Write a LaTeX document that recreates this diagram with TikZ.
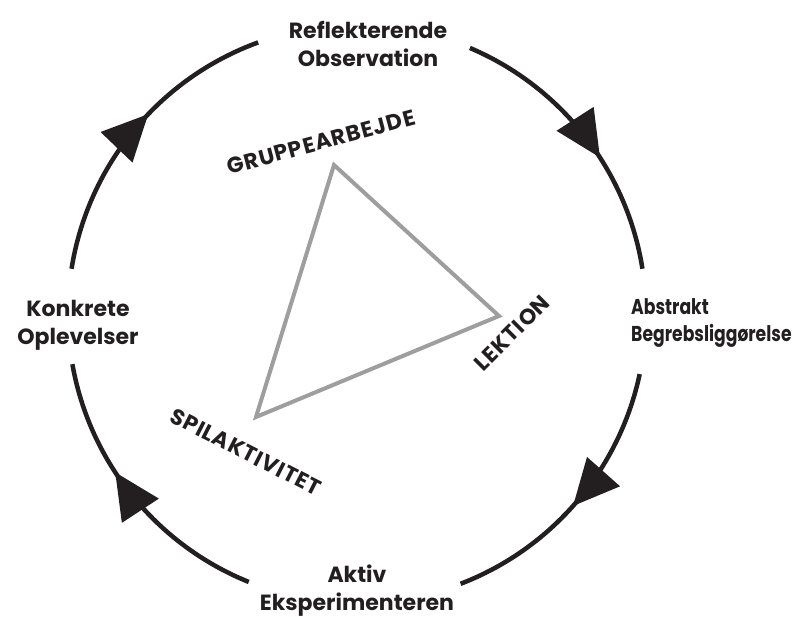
\documentclass[tikz,border=0pt]{standalone}
\usepackage{fontspec}
\setmainfont{Poppins}
\newfontfamily\narrowfont{Poppins}[FakeStretch=0.8]
\usetikzlibrary{arrows.meta,decorations.markings}
\definecolor{ink}{RGB}{35,31,32}
\definecolor{trigray}{RGB}{158,158,158}
\begin{document}
\begin{tikzpicture}[x=1pt,y=1pt,
  cyc/.style={line width=4.5pt, draw=ink},
  arrowat/.style={postaction={decorate}, decoration={markings,
     mark=at position #1 with {\arrow[ink]{Triangle[length=46pt,width=43pt]}}}},
  lbl/.style={font=\fontsize{22}{28}\selectfont\bfseries, inner sep=0pt, align=center, text=ink},
  modelbl/.style={font=\fontsize{22}{26}\selectfont\bfseries\addfontfeatures{LetterSpace=4}, inner sep=0pt, text=ink},
  tri/.style={draw=trigray, line width=4pt, line join=miter}]
\useasboundingbox (0,0) rectangle (797,617);
\coordinate (c) at (357,303);
% cycle arcs
\draw[cyc, arrowat=0.57] ([shift={(171:289)}]c) arc[start angle=171, end angle=110, radius=289];
\draw[cyc, arrowat=0.59] ([shift={(67:289)}]c) arc[start angle=67, end angle=9, radius=289];
\draw[cyc, arrowat=0.52] ([shift={(-12:289)}]c) arc[start angle=-12, end angle=-69, radius=289];
\draw[cyc, arrowat=0.60] ([shift={(-112:289)}]c) arc[start angle=-112, end angle=-170, radius=289];
% labels
\node[lbl, anchor=north] (refl) at (368,596) {Reflekterende\\Observation};
\node[lbl, anchor=north] (konk) at (78,317) {Konkrete\\Oplevelser};
\node[lbl, anchor=north west, align=left, font=\fontsize{21.5}{27}\selectfont\narrowfont\bfseries] (abst) at (631,319) {Abstrakt\\Begrebsliggørelse};
\node[lbl, anchor=north] (akt) at (357,52) {Aktiv\\Eksperimenteren};
% triangle
\coordinate (ta) at (334,452);
\coordinate (tb) at (499,301);
\coordinate (tc) at (256,200);
\draw[tri] (ta) -- (tb) -- (tc) -- cycle;
\node[modelbl, rotate=15] (grp) at (321,475) {GRUPPEARBEJDE};
\node[modelbl, rotate=45] (lek) at (512,284) {LEKTION};
\node[modelbl, rotate=-27] (spil) at (246,165) {SPILAKTIVITET};
\end{tikzpicture}
\end{document}
